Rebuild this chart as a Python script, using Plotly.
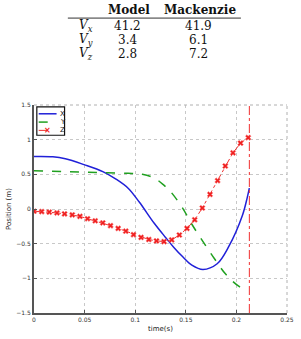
import plotly.graph_objects as go

# ---- table data ----
table_cols = ["Model", "Mackenzie"]
table_rows = ["<i>V</i><sub><i>x</i></sub>", "<i>V</i><sub><i>y</i></sub>", "<i>V</i><sub><i>z</i></sub>"]
model_vals = ["41.2", "3.4", "2.8"]
mack_vals = ["41.9", "6.1", "7.2"]

# ---- chart data ----
series_names = ["X", "Y", "Z"]
x_t = [0, 0.0186, 0.031, 0.0495, 0.068, 0.0806, 0.093, 0.104, 0.119, 0.13, 0.138,
       0.147, 0.156, 0.167, 0.181, 0.1925, 0.206, 0.2107, 0.2128]
x_pos = [0.757, 0.753, 0.725, 0.64, 0.54, 0.435, 0.30, 0.10, -0.21, -0.41, -0.55,
         -0.69, -0.81, -0.872, -0.79, -0.54, -0.09, 0.164, 0.30]

y_t = [0, 0.031, 0.062, 0.093, 0.107, 0.119, 0.1286, 0.135, 0.147, 0.156, 0.167,
       0.178, 0.19, 0.203, 0.2116]
y_pos = [0.553, 0.54, 0.525, 0.515, 0.50, 0.445, 0.34, 0.25, 0.01, -0.22, -0.47,
         -0.71, -0.95, -1.12, -1.17]

z_t = [0, 0.0076, 0.0151, 0.0227, 0.0302, 0.0378, 0.0454, 0.0529, 0.0605, 0.068,
       0.0756, 0.0832, 0.0907, 0.0983, 0.1058, 0.1134, 0.121, 0.1285, 0.1361, 0.1436,
       0.1512, 0.1588, 0.1663, 0.1739, 0.1814, 0.189, 0.1966, 0.2041, 0.2117]
z_pos = [-0.032, -0.037, -0.046, -0.056, -0.07, -0.084, -0.106, -0.14, -0.17, -0.20,
         -0.24, -0.28, -0.32, -0.37, -0.41, -0.44, -0.46, -0.47, -0.445, -0.375,
         -0.28, -0.155, 0.014, 0.21, 0.41, 0.62, 0.81, 0.95, 1.03]

event_time = 0.2128
x_ticks = [0, 0.05, 0.1, 0.15, 0.2, 0.25]
y_ticks = [-1.5, -1, -0.5, 0, 0.5, 1, 1.5]

BLUE = "#2020d8"
GREEN = "#20a020"
RED = "#f03030"

W, H = 301, 339
ml, mr, mt, mb = 25, 7, 105, 21
plot_w = W - ml - mr
plot_h = H - mt - mb


def px2paper(px, py):
    return (px - ml) / plot_w, 1 - (py - mt) / plot_h


fig = go.Figure()
fig.add_trace(go.Scatter(x=x_t, y=x_pos, name=series_names[0], mode="lines",
                         line=dict(color=BLUE, width=1.5, shape="spline")))
fig.add_trace(go.Scatter(x=y_t, y=y_pos, name=series_names[1], mode="lines",
                         line=dict(color=GREEN, width=1.5, dash="dash", shape="spline")))
fig.add_trace(go.Scatter(x=z_t, y=z_pos, name=series_names[2], mode="lines+markers",
                         line=dict(color=RED, width=1, dash="dashdot"),
                         marker=dict(symbol="x", size=5, color="#ee2020",
                                     line=dict(width=0.5, color="#ff8080"))))

fig.add_vline(x=event_time, line=dict(color=RED, width=1, dash="dashdot"))

axis_common = dict(showgrid=True, gridcolor="#c8c8c8", griddash="dot", gridwidth=1,
                   showline=True, linecolor="#555555", linewidth=2,
                   ticks="inside", ticklen=3, tickcolor="#555555",
                   tickfont=dict(family="DejaVu Sans", size=6, color="#333333"),
                   zeroline=False)

fig.update_xaxes(range=[0, 0.25], tickvals=x_ticks,
                 ticktext=[f"{v:g}" for v in x_ticks],
                 title=dict(text="time(s)", font=dict(family="DejaVu Sans", size=7, color="#222222"),
                            standoff=4),
                 **axis_common)
fig.update_yaxes(range=[-1.5, 1.5], tickvals=y_ticks,
                 ticktext=[f"{v:g}".replace("-", "\u2212") for v in y_ticks],
                 title=dict(text="Position (m)", font=dict(family="DejaVu Sans", size=7, color="#222222"),
                            standoff=4),
                 **axis_common)

# top/right dotted frame
fig.add_shape(type="line", xref="paper", yref="paper", x0=0, x1=1, y0=1, y1=1,
              line=dict(color="#b0b0b0", width=1, dash="dot"))
fig.add_shape(type="line", xref="paper", yref="paper", x0=1, x1=1, y0=0, y1=1,
              line=dict(color="#b0b0b0", width=1, dash="dot"))

# ---- table as text ----
serif = "DejaVu Serif"
tfont = dict(family=serif, size=12, color="#111111")
col_x = [126, 201]
row_y = [24, 38.5, 52.5]


def add_text(text, px, py, font=tfont, anchor="center"):
    x, y = px2paper(px, py)
    fig.add_annotation(text=text, x=x, y=y, xref="paper", yref="paper",
                       xanchor=anchor, yanchor="middle", showarrow=False, font=font)


for cx, name in zip(col_x, table_cols):
    add_text(f"<b>{name}</b>", cx, 7.5)
for ry, lab, mv, kv in zip(row_y, table_rows, model_vals, mack_vals):
    add_text(lab, 80, ry)
    add_text(mv, 124, ry)
    add_text(kv, 200, ry)

x0, yr = px2paper(61, 16)
x1, _ = px2paper(245, 16)
fig.add_shape(type="line", xref="paper", yref="paper", x0=x0, x1=x1, y0=yr, y1=yr,
              line=dict(color="#333333", width=1))

# ---- compact legend (MATLAB style) ----
bx0, by0 = px2paper(28, 107)
bx1, by1 = px2paper(57.5, 136)
fig.add_shape(type="rect", xref="paper", yref="paper", x0=bx0, x1=bx1, y0=by1, y1=by0,
              fillcolor="white", line=dict(color="#111111", width=1.2), layer="above")
leg_styles = [dict(color=BLUE, width=1.5), dict(color=GREEN, width=1.5, dash="dash"),
              dict(color=RED, width=1, dash="dash")]
leg_y = [114, 122.5, 131]
lfont = dict(family="DejaVu Sans", size=7, color="#222222")
for name, st, ly in zip(series_names, leg_styles, leg_y):
    lx0, lyy = px2paper(30, ly)
    lx1, _ = px2paper(49, ly)
    fig.add_shape(type="line", xref="paper", yref="paper", x0=lx0, x1=lx1, y0=lyy, y1=lyy,
                  line=st, layer="above")
    add_text(name, 50.5, ly, font=lfont, anchor="left")
add_text("<b>×</b>", 39.5, leg_y[2], font=dict(family="DejaVu Sans", size=8, color="#ee2020"))

fig.update_layout(
    width=W, height=H,
    margin=dict(l=ml, r=mr, t=mt, b=mb),
    paper_bgcolor="white", plot_bgcolor="white",
    showlegend=False,
)

fig.write_html("out.html")
